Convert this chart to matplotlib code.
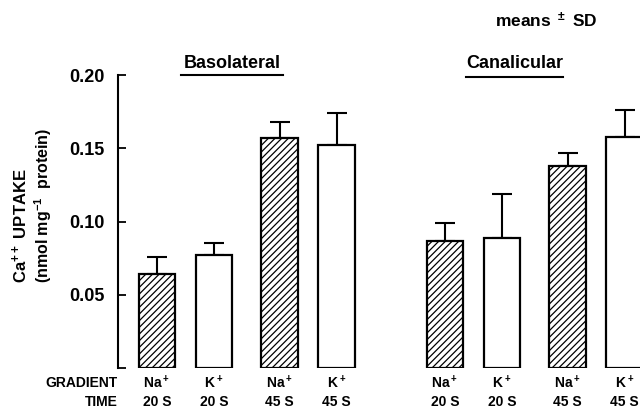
import matplotlib
matplotlib.use("Agg")
import matplotlib.pyplot as plt
import numpy as np
from matplotlib.lines import Line2D
from matplotlib.transforms import blended_transform_factory

plt.rcParams['font.family'] = ['Liberation Sans', 'DejaVu Sans']
plt.rcParams['font.weight'] = 'bold'
plt.rcParams['mathtext.fontset'] = 'custom'
plt.rcParams['mathtext.rm'] = 'Liberation Sans:bold'
plt.rcParams['mathtext.bf'] = 'Liberation Sans:bold'
plt.rcParams['mathtext.default'] = 'bf'
plt.rcParams['hatch.linewidth'] = 0.9

# ---- data ----
groups = ["Basolateral", "Canalicular"]
gradient_labels = ["Na$^+$", "K$^+$", "Na$^+$", "K$^+$"]
time_labels = ["20 S", "20 S", "45 S", "45 S"]
basolateral_mean = [0.064, 0.077, 0.157, 0.152]
basolateral_sd = [0.012, 0.008, 0.011, 0.022]
canalicular_mean = [0.087, 0.089, 0.138, 0.158]
canalicular_sd = [0.012, 0.030, 0.009, 0.018]
hatched = [True, False, True, False]
yticks = [0.0, 0.05, 0.10, 0.15, 0.20]
ytick_labels = ["", "0.05", "0.10", "0.15", "0.20"]

W, H = 640, 409
fig = plt.figure(figsize=(W / 100, H / 100), dpi=100)
ax = fig.add_axes([118 / W, (H - 368) / H, 1 - 118 / W, (368 - 75) / H])

# layout of bars (positions in bar-spacing units)
pair_gap = 2.15
group_gap = 5.05
width = 0.64
means = [basolateral_mean, canalicular_mean]
sds = [basolateral_sd, canalicular_sd]
all_x = []
for g in range(2):
    xs = np.array([group_gap * g + pair_gap * (i // 2) + (i % 2) for i in range(4)])
    all_x.extend(xs)
    m = np.array(means[g])
    s = np.array(sds[g])
    for x, v, h in zip(xs, m, hatched):
        ax.bar(x, v, width=width, facecolor='white', edgecolor='black',
               linewidth=1.6, hatch='/////' if h else None, zorder=2)
    ax.errorbar(xs, m, yerr=[np.zeros_like(s), s], fmt='none', ecolor='black',
                elinewidth=1.5, capsize=7, capthick=1.5, zorder=1)

ax.set_xlim(-0.684, 8.47)
ax.set_ylim(0, 0.2)
ax.set_yticks(yticks)
ax.set_yticklabels(ytick_labels)
for sp in ['top', 'right', 'bottom']:
    ax.spines[sp].set_visible(False)
ax.spines['left'].set_linewidth(1.5)
ax.set_xticks([])
ax.tick_params(axis='y', direction='in', length=6, width=1.3, pad=9.5,
               labelsize=13)
for lab in ax.get_yticklabels():
    lab.set_fontweight('bold')

# category labels below the bars
tr = blended_transform_factory(ax.transData, fig.transFigure)
for k, x in enumerate(all_x):
    ax.text(x, (H - 383) / H, gradient_labels[k % 4], transform=tr,
            ha='center', va='center', fontsize=10, fontweight='bold')
    ax.text(x, (H - 402) / H, time_labels[k % 4], transform=tr,
            ha='center', va='center', fontsize=10, fontweight='bold')
fig.text(118 / W, (H - 383) / H, "GRADIENT", ha='right', va='center',
         fontsize=10, fontweight='bold')
fig.text(118 / W, (H - 402) / H, "TIME", ha='right', va='center',
         fontsize=10, fontweight='bold')

# group titles with underline
title_info = [(232, 63, 181, 283, 75), (514.5, 64, 466, 563, 77)]
for name, (cx, cy, x0, x1, uy) in zip(groups, title_info):
    fig.text(cx / W, (H - cy) / H, name, ha='center', va='center',
             fontsize=13, fontweight='bold')
    fig.add_artist(Line2D([x0 / W, x1 / W], [(H - uy) / H, (H - uy) / H],
                          transform=fig.transFigure, color='black', lw=1.5))

fig.text(546 / W, (H - 20) / H, "means $^\\pm$ SD", ha='center', va='center',
         fontsize=12.5, fontweight='bold')

# y label (two lines)
fig.text(20 / W, (H - 283) / H, "Ca$^{++}$ UPTAKE", rotation=90,
         ha='center', va='bottom', fontsize=12, fontweight='bold')
fig.text(43 / W, (H - 283) / H, "(nmol mg$^{-1}$  protein)", rotation=90,
         ha='center', va='bottom', fontsize=11.5, fontweight='bold')

fig.savefig("out.png", dpi=100)
